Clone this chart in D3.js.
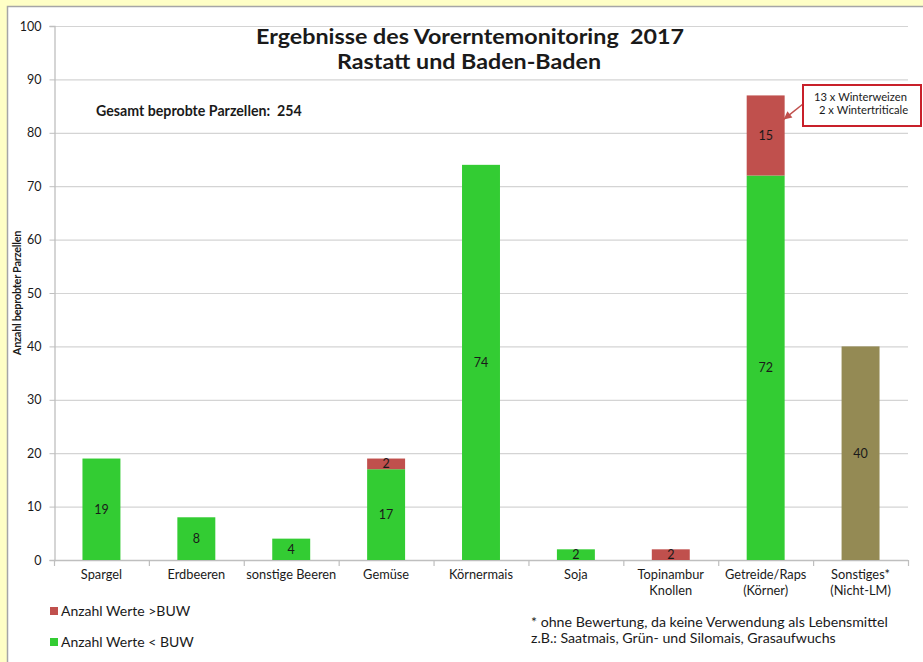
<!DOCTYPE html>
<html>
<head>
<meta charset="utf-8">
<script src="https://cdn.jsdelivr.net/npm/d3@7"></script>
<style>
  html, body { margin: 0; padding: 0; background: #ffffc6; }
  svg { display: block; }
  text { font-family: Lato, "Open Sans", sans-serif; fill: #1a1a1a; }
</style>
</head>
<body>
<svg id="chart" width="923" height="662"></svg>
<script>
// Sampled plots per crop group
const categories = [
  ["Spargel"], ["Erdbeeren"], ["sonstige Beeren"], ["Gemüse"], ["Körnermais"],
  ["Soja"], ["Topinambur", "Knollen"], ["Getreide/Raps", "(Körner)"], ["Sonstiges*", "(Nicht-LM)"]
];
const belowBUW = [19, 8, 4, 17, 74, 2, 0, 72, 0];   // Anzahl Werte < BUW
const aboveBUW = [0, 0, 0, 2, 0, 0, 2, 15, 0];      // Anzahl Werte >BUW
const notRated = [0, 0, 0, 0, 0, 0, 0, 0, 40];      // Sonstiges (ohne Bewertung)
const yTicks = [0, 10, 20, 30, 40, 50, 60, 70, 80, 90, 100];

const colors = { below: "#33cc33", above: "#c0504d", other: "#948a54" };

const svg = d3.select("#chart");

// white chart panel with grey frame
svg.append("rect").attr("x", 7.5).attr("y", 6.5).attr("width", 930).attr("height", 670)
  .attr("fill", "#ffffff").attr("stroke", "#a6a6a6").attr("stroke-width", 1.5);

const plot = { left: 54, right: 908, top: 26, bottom: 560 };

const x = d3.scaleBand().domain(d3.range(categories.length))
  .range([plot.left, plot.right]).paddingInner(0.6).paddingOuter(0.3);
const xEdge = d3.scaleLinear().domain([0, categories.length]).range([plot.left, plot.right]);
const y = d3.scaleLinear().domain([0, 100]).range([plot.bottom, plot.top]);

// gridlines
svg.append("g").selectAll("line").data(yTicks.filter(d => d > 0)).join("line")
  .attr("x1", plot.left).attr("x2", plot.right)
  .attr("y1", d => y(d) + 0.5).attr("y2", d => y(d) + 0.5)
  .attr("stroke", "#d4d4d4").attr("stroke-width", 1.2);

// y axis
const yAxis = svg.append("g").attr("transform", `translate(${plot.left + 0.5},0)`)
  .call(d3.axisLeft(y).tickValues(yTicks).tickSize(5).tickPadding(8));
yAxis.select(".domain").attr("stroke", "#bfbfbf").attr("stroke-width", 1.3);
yAxis.selectAll(".tick line").attr("stroke", "#bfbfbf");
yAxis.selectAll(".tick text").attr("font-size", 12.5).attr("fill", "#1a1a1a")
  .style("font-family", "Lato, sans-serif");

// x axis line with category boundary ticks
const xg = svg.append("g");
xg.append("line").attr("x1", plot.left).attr("x2", plot.right)
  .attr("y1", plot.bottom + 0.5).attr("y2", plot.bottom + 0.5)
  .attr("stroke", "#bfbfbf").attr("stroke-width", 1.3);
xg.selectAll("line.tk").data(d3.range(categories.length + 1)).join("line").attr("class", "tk")
  .attr("x1", d => xEdge(d) + 0.5).attr("x2", d => xEdge(d) + 0.5)
  .attr("y1", plot.bottom).attr("y2", plot.bottom + 6)
  .attr("stroke", "#bfbfbf").attr("stroke-width", 1.2);

// category labels
const catLabels = svg.append("g").selectAll("text").data(categories).join("text")
  .attr("x", (d, i) => x(i) + x.bandwidth() / 2)
  .attr("y", 579)
  .attr("text-anchor", "middle").attr("font-size", 12.8);
catLabels.selectAll("tspan").data(d => d).join("tspan")
  .attr("x", function () { return d3.select(this.parentNode).attr("x"); })
  .attr("dy", (d, i) => i === 0 ? 0 : 15.5)
  .text(d => d);

// stacked bars
const rows = categories.map((c, i) => ({ i, below: belowBUW[i], above: aboveBUW[i], other: notRated[i] }));
const stack = d3.stack().keys(["below", "above", "other"])(rows);
const barG = svg.append("g");
stack.forEach(layer => {
  barG.append("g").selectAll("rect").data(layer.filter(d => d[1] > d[0])).join("rect")
    .attr("x", d => x(d.data.i))
    .attr("width", x.bandwidth())
    .attr("y", d => y(d[1]))
    .attr("height", d => y(d[0]) - y(d[1]))
    .attr("fill", colors[layer.key]);
  barG.append("g").selectAll("text").data(layer.filter(d => d[1] > d[0])).join("text")
    .attr("x", d => x(d.data.i) + x.bandwidth() / 2)
    .attr("y", d => (y(d[0]) + y(d[1])) / 2 + 4.5)
    .attr("text-anchor", "middle").attr("font-size", 12.5)
    .text(d => d[1] - d[0]);
});

// title
svg.append("text").attr("x", 470).attr("y", 44).attr("text-anchor", "middle")
  .attr("font-size", 21).attr("font-weight", "bold").attr("fill", "#111")
  .attr("textLength", 428).attr("lengthAdjust", "spacingAndGlyphs")
  .text("Ergebnisse des Vorerntemonitoring\u00a0\u00a02017");
svg.append("text").attr("x", 469).attr("y", 69).attr("text-anchor", "middle")
  .attr("font-size", 21).attr("font-weight", "bold").attr("fill", "#111")
  .attr("textLength", 264).attr("lengthAdjust", "spacingAndGlyphs")
  .text("Rastatt und Baden-Baden");

svg.append("text").attr("x", 96).attr("y", 116).attr("font-size", 14.2).attr("font-weight", "bold")
  .text("Gesamt beprobte Parzellen:\u00a0\u00a0254");

// y axis title
svg.append("text").attr("transform", "translate(21,293) rotate(-90)")
  .attr("text-anchor", "middle").attr("font-size", 11).attr("font-weight", "bold")
  .style("letter-spacing", "-0.3px")
  .text("Anzahl beprobter Parzellen");

// callout for the cereal exceedances
const gi = 7;
const calloutX = 803, calloutY = 85;
const ax = x(gi) + x.bandwidth() - 1, ay = y(belowBUW[gi] + aboveBUW[gi] - 4.5);
svg.append("line")
  .attr("x1", calloutX).attr("y1", 104).attr("x2", ax).attr("y2", ay)
  .attr("stroke", "#c0504d").attr("stroke-width", 1.5);
{
  const ang = Math.atan2(104 - ay, calloutX - ax);
  const L = 8, W = 4;
  const p1 = [ax + L * Math.cos(ang) - W * Math.sin(ang), ay + L * Math.sin(ang) + W * Math.cos(ang)];
  const p2 = [ax + L * Math.cos(ang) + W * Math.sin(ang), ay + L * Math.sin(ang) - W * Math.cos(ang)];
  svg.append("polygon").attr("points", [[ax, ay], p1, p2].map(p => p.join(",")).join(" "))
    .attr("fill", "#c0504d");
}
svg.append("rect").attr("x", calloutX).attr("y", calloutY).attr("width", 118).attr("height", 41)
  .attr("fill", "#fff").attr("stroke", "#c8202a").attr("stroke-width", 2);
svg.append("text").attr("x", 814).attr("y", 101).attr("font-size", 11.2).text("13 x Winterweizen");
svg.append("text").attr("x", 819).attr("y", 114).attr("font-size", 11.2).text("2 x Wintertriticale");

// legend
const legend = [["Anzahl Werte >BUW", colors.above, 611], ["Anzahl Werte < BUW", colors.below, 642]];
legend.forEach(([label, col, ly]) => {
  svg.append("rect").attr("x", 50).attr("y", ly - 4).attr("width", 8).attr("height", 8).attr("fill", col);
  svg.append("text").attr("x", 61).attr("y", ly + 5).attr("font-size", 14).text(label);
});

// footnote
svg.append("text").attr("x", 531).attr("y", 627).attr("font-size", 14.2)
  .text("* ohne Bewertung, da keine Verwendung als Lebensmittel");
svg.append("text").attr("x", 531).attr("y", 643).attr("font-size", 14.2)
  .text("z.B.: Saatmais, Grün- und Silomais, Grasaufwuchs");
</script>
</body>
</html>
